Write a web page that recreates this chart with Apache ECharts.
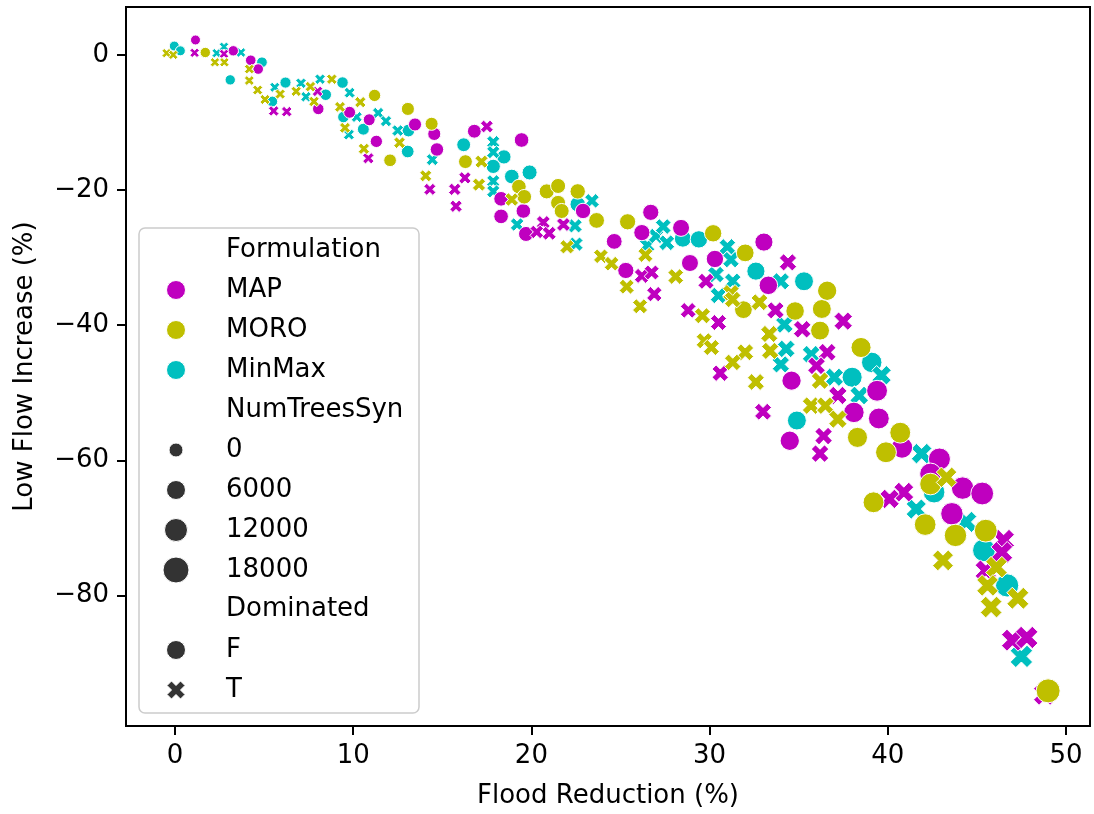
<!DOCTYPE html>
<html><head><meta charset="utf-8">
<script src="https://cdn.jsdelivr.net/npm/echarts@6/dist/echarts.min.js"></script>
<style>html,body{margin:0;padding:0;background:#fff}#c{width:1094px;height:814px}</style>
</head><body><div id="c"></div>
<script>
// Tick labels
const xTicks = [0, 10, 20, 30, 40, 50];
const yTicks = [0, -20, -40, -60, -80];
const formulations = ['MAP', 'MORO', 'MinMax'];
const sizeLegend = [0, 6000, 12000, 18000];
const dominatedLegend = ['F', 'T'];

// Points: [Flood Reduction (%), Low Flow Increase (%), NumTreesSyn]
const mapF = [
  [1.15,2.2,0],[3.27,0.6,500],[4.25,-0.8,800],[4.67,-2.1,800],[8.04,-8.0,2000],[9.8,-8.5,2500],
  [10.9,-9.6,2500],[11.3,-12.8,3000],[13.47,-10.3,4000],[14.55,-11.7,4000],[14.7,-14.0,4500],
  [16.8,-11.3,5000],[19.45,-12.6,6000],[18.3,-21.3,6000],[19.55,-23.1,6000],[18.3,-23.9,6000],
  [19.7,-26.5,6500],[22.9,-23.1,7000],[24.65,-27.6,7500],[26.2,-26.3,8000],[26.7,-23.3,8000],
  [25.3,-31.9,8000],[28.4,-25.6,9000],[28.9,-30.8,9000],[30.3,-30.2,9500],[33.05,-27.7,10500],
  [33.3,-34.1,11000],[34.6,-48.2,12000],[34.5,-57.1,12000],[39.4,-49.7,14000],[38.1,-52.9,13500],
  [39.5,-53.8,14000],[40.8,-58.1,14500],[42.9,-59.8,15500],[42.4,-62.0,15000],[44.2,-64.1,16000],
  [45.3,-64.9,16500],[43.6,-67.9,16000]
];
const mapT = [
  [1.1,0.3,0],[2.75,0.15,0],[5.54,-8.3,1500],[6.27,-8.4,1500],[8.0,-5.4,1500],[10.85,-15.3,2500],
  [14.3,-19.9,3500],[15.7,-19.9,4000],[15.77,-22.4,4000],[17.5,-10.6,4500],[16.27,-18.2,4000],
  [20.67,-24.8,6000],[21.0,-26.4,6000],[20.3,-26.2,5500],[21.8,-25.1,6000],[26.2,-32.7,7500],
  [26.75,-32.2,7500],[26.9,-35.4,8000],[29.8,-33.5,9000],[28.8,-37.8,8500],[30.5,-39.6,9000],
  [34.4,-30.7,10500],[33.7,-37.8,10500],[35.2,-40.6,11000],[37.5,-39.4,12000],[30.6,-47.1,9500],
  [33.0,-52.8,10000],[36.6,-44.0,11500],[36.0,-46.0,11500],[37.2,-50.4,12000],[36.4,-56.4,11500],
  [36.2,-59.0,11500],[40.9,-64.7,14000],[40.1,-65.7,13500],[46.5,-71.8,16500],[46.4,-73.6,16500],
  [45.5,-76.3,16000],[47.0,-86.6,17000],[47.8,-86.2,17500],[48.8,-94.6,17000]
];
const moroF = [
  [1.7,0.35,500],[11.2,-6.0,3000],[13.07,-8.0,4000],[14.4,-10.2,4000],[12.07,-15.6,3500],
  [16.3,-15.8,5000],[19.3,-19.5,6000],[19.6,-21.0,6000],[20.86,-20.2,6500],[21.5,-19.4,6500],
  [22.6,-20.2,7000],[21.5,-21.9,6500],[21.7,-23.1,6500],[23.66,-24.5,7500],[25.4,-24.7,8000],
  [30.2,-26.4,9500],[32.0,-29.3,10000],[31.9,-37.7,10000],[34.8,-37.9,11000],[36.3,-37.6,11500],
  [36.6,-34.9,12000],[36.2,-40.8,11500],[38.5,-43.3,13000],[38.3,-56.6,13000],[40.7,-55.9,14000],
  [39.9,-58.8,14000],[42.4,-63.5,15000],[39.2,-66.2,14000],[42.1,-69.5,15000],[43.8,-71.1,16000],
  [45.5,-70.4,16500],[49.0,-94.1,18000]
];
const moroT = [
  [-0.47,0.25,0],[-0.1,0.0,0],[2.24,-1.1,0],[2.77,-1.1,0],[4.17,-2.1,500],[4.17,-3.8,500],
  [4.64,-5.2,800],[5.9,-5.8,1000],[5.05,-6.6,1000],[7.6,-4.7,1500],[6.8,-5.4,1200],[7.8,-6.9,1500],
  [8.8,-3.6,1500],[9.26,-7.7,2000],[9.54,-10.8,2000],[10.4,-7.0,2500],[10.6,-13.9,2500],
  [12.6,-13.0,3000],[14.07,-17.9,3500],[17.2,-15.8,5000],[17.06,-19.2,5000],[18.9,-21.4,5500],
  [22.0,-28.4,6500],[23.9,-29.8,7000],[24.5,-30.9,7000],[26.4,-29.6,7500],[25.35,-34.3,7500],
  [26.1,-37.2,7500],[28.1,-32.8,8500],[29.6,-38.6,9000],[29.7,-42.3,9000],[30.1,-43.3,9000],
  [31.2,-35.2,9500],[31.3,-36.2,9500],[32.8,-36.6,10000],[33.35,-41.3,10500],[33.4,-43.8,10500],
  [32.0,-44.0,10000],[31.3,-45.5,9500],[32.6,-48.4,10000],[36.2,-48.2,11500],[35.7,-51.9,11000],
  [36.5,-51.9,11500],[37.2,-53.9,12000],[43.3,-62.5,15000],[43.1,-74.8,15500],[46.1,-75.8,16500],
  [45.6,-78.5,16500],[47.3,-80.4,17000],[45.8,-81.7,16500]
];
const minmaxF = [
  [-0.04,1.3,0],[0.3,0.6,0],[4.88,-1.1,1000],[3.1,-3.7,500],[6.2,-4.1,1500],[5.46,-6.9,1000],
  [8.46,-5.9,2000],[9.4,-4.1,2000],[9.45,-9.2,2000],[10.57,-11.0,2500],[13.1,-11.2,3500],
  [13.06,-14.3,3500],[16.2,-13.3,5000],[17.86,-16.5,5500],[18.46,-15.1,5500],[18.9,-18.0,6000],
  [19.9,-17.4,6500],[22.6,-22.1,7000],[28.5,-27.2,9000],[29.4,-27.3,9500],[32.6,-32.0,10500],
  [35.3,-33.5,11500],[39.1,-45.5,13500],[38.0,-47.7,13000],[34.9,-54.1,11500],[42.6,-64.7,15000],
  [45.4,-73.3,16500],[46.7,-78.5,17000]
];
const minmaxT = [
  [2.34,0.25,0],[2.75,1.2,0],[3.7,0.35,200],[5.6,-4.8,1000],[7.07,-4.2,1500],[7.35,-6.2,1500],
  [8.14,-3.6,1500],[9.76,-11.8,2000],[9.8,-5.6,2000],[10.2,-9.2,2000],[11.4,-8.6,2500],
  [11.84,-9.8,2500],[12.5,-11.2,3000],[14.44,-15.5,3500],[17.86,-12.9,5000],[17.86,-14.4,5000],
  [17.86,-18.7,5000],[17.86,-20.2,5000],[19.2,-25.1,5500],[23.4,-21.6,7000],[22.45,-25.3,6500],
  [22.5,-28.0,6500],[26.5,-28.2,8000],[27.0,-26.8,8000],[27.4,-25.4,8500],[27.6,-27.8,8500],
  [31.0,-28.4,9500],[31.2,-30.3,9500],[30.36,-32.5,9500],[31.3,-33.5,9500],[30.5,-35.6,9500],
  [34.0,-33.5,10500],[34.2,-39.9,11000],[34.3,-43.5,11000],[34.0,-45.8,10500],[35.7,-44.3,11500],
  [37.0,-47.7,12000],[39.65,-47.4,13500],[38.4,-50.4,13000],[41.9,-59.0,15000],[41.6,-67.2,14500],
  [44.4,-69.1,16000],[47.5,-89.0,17500]
];

const colors = { MAP: '#bf00bf', MORO: '#bfbf00', MinMax: '#00bfbf' };
const XPTS = [[3,0],[4,1],[3,2],[4,3],[3,4],[2,3],[1,4],[0,3],[1,2],[0,1],[1,0],[2,1]];
const XPATH = 'path://M' + XPTS.map(p => p.join(',')).join('L') + 'Z';
const FONT = 'DejaVu Sans';
const sz = n => 10 + 14 * n / 18000;

function items(arr, dom) {
  return arr.map(p => ({
    value: p,
    symbol: dom ? XPATH : 'circle',
    symbolSize: dom ? sz(p[2]) * 0.95 : sz(p[2])
  }));
}
const groups = {
  MAP: [mapF, mapT], MORO: [moroF, moroT], MinMax: [minmaxF, minmaxT]
};
const order = ['MinMax', 'MAP', 'MORO'];
const series = order.map(f => ({
  type: 'scatter', name: f,
  data: items(groups[f][0], false).concat(items(groups[f][1], true)),
  itemStyle: { color: colors[f], borderColor: '#ffffff', borderWidth: 1, opacity: 1 },
  emphasis: { disabled: true },
  animation: false
}));

// Legend (drawn as graphics)
const LX = 176, TX = 226;
const rowY = [250, 290, 330, 370, 410, 450, 490, 530, 570, 609, 650, 690];
const g = [];
g.push({ type: 'rect', shape: { x: 139, y: 228, width: 280, height: 485, r: 6 },
  style: { fill: 'rgba(255,255,255,0.8)', stroke: '#cccccc', lineWidth: 1.5 }, z: 10 });
const labels = ['Formulation'].concat(formulations, ['NumTreesSyn'], sizeLegend.map(String), ['Dominated'], dominatedLegend);
labels.forEach((t, i) => g.push({ type: 'text', x: TX, y: rowY[i], z: 11,
  style: { text: t, font: '26px "DejaVu Sans"', fill: '#000', textVerticalAlign: 'middle', verticalAlign: 'middle' } }));
formulations.forEach((f, i) => g.push({ type: 'circle', shape: { cx: LX, cy: rowY[1 + i], r: 9.5 },
  style: { fill: colors[f], stroke: '#fff', lineWidth: 1 }, z: 11 }));
[7, 9.5, 11.5, 13].forEach((r, i) => g.push({ type: 'circle', shape: { cx: LX, cy: rowY[5 + i], r: r },
  style: { fill: '#333333', stroke: '#fff', lineWidth: 1 }, z: 11 }));
g.push({ type: 'circle', shape: { cx: LX, cy: rowY[10], r: 9.5 }, style: { fill: '#333333', stroke: '#fff', lineWidth: 1 }, z: 11 });
g.push({ type: 'polygon', shape: { points: XPTS.map(p => [LX - 9 + p[0] * 4.5, rowY[11] - 9 + p[1] * 4.5]) },
  style: { fill: '#333333', stroke: '#fff', lineWidth: 1 }, z: 11 });

const chart = echarts.init(document.getElementById('c'), null, { renderer: 'canvas' });
chart.setOption({
  animation: false,
  backgroundColor: '#ffffff',
  textStyle: { fontFamily: FONT },
  grid: { left: 126, top: 7, right: 4, bottom: 86, show: true, borderColor: '#000', borderWidth: 2, backgroundColor: 'transparent' },
  xAxis: {
    type: 'value', min: -2.75, max: 51.35,
    name: 'Flood Reduction (%)', nameLocation: 'middle', nameGap: 57,
    nameTextStyle: { fontSize: 26, color: '#000', fontFamily: FONT },
    axisLine: { show: true, onZero: false, lineStyle: { color: '#000', width: 2 } },
    axisTick: { show: true, length: 9, lineStyle: { color: '#000', width: 2 }, customValues: xTicks },
    axisLabel: { fontSize: 26, color: '#000', margin: 17, fontFamily: FONT, customValues: xTicks },
    splitLine: { show: false }
  },
  yAxis: {
    type: 'value', min: -99.3, max: 7.08,
    name: 'Low Flow Increase (%)', nameLocation: 'middle', nameGap: 88,
    nameTextStyle: { fontSize: 26, color: '#000', fontFamily: FONT },
    axisLine: { show: true, onZero: false, lineStyle: { color: '#000', width: 2 } },
    axisTick: { show: true, length: 9, lineStyle: { color: '#000', width: 2 }, customValues: yTicks },
    axisLabel: { fontSize: 26, color: '#000', margin: 17, fontFamily: FONT, customValues: yTicks,
      formatter: v => (v < 0 ? '\u2212' + Math.abs(v) : String(v)) },
    splitLine: { show: false }
  },
  series: series,
  graphic: g
});
</script></body></html>
